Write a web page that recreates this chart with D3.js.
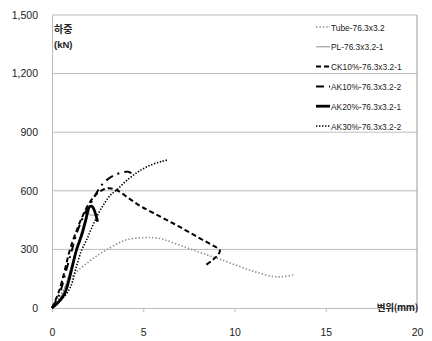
<!DOCTYPE html>
<html>
<head>
<meta charset="utf-8">
<script src="https://cdn.jsdelivr.net/npm/d3@7"></script>
<style>
  html, body { margin: 0; padding: 0; background: #fff; }
  svg { display: block; }
  text { font-family: "Liberation Sans", Arial, sans-serif; fill: #222; }
</style>
</head>
<body>
<svg id="chart" width="432" height="341"></svg>
<script>
// Load–displacement curves (displacement in mm, load in kN)
const xTicks = [0, 5, 10, 15, 20];
const yTicks = [0, 300, 600, 900, 1200, 1500];

const tube = [[0,0],[0.4,55],[0.9,135],[1.4,190],[2,235],[2.5,270],[3,298],[3.7,335],[4.2,352],[5,360],[5.5,360],[6,354],[6.6,335],[7.5,305],[8.5,272],[9.2,250],[10.3,212],[11.2,183],[12.1,162],[12.6,160],[13.3,170]];
const pl = [[0,0],[0.4,40],[0.8,130],[1.1,230],[1.4,320],[1.7,420],[1.9,480],[2.0,505],[2.05,478],[2.45,478]];
const ck10 = [[0,0],[0.4,90],[0.99,300],[1.26,374],[1.6,455],[2.0,530],[2.4,580],[2.8,606],[3.1,613],[3.54,604],[4.2,562],[4.9,519],[6,465],[7,415],[8,362],[8.7,326],[9.05,308],[9.2,293],[9.1,272],[8.8,246],[8.4,218]];
const ak10 = [[0,0],[0.4,70],[0.8,200],[1.1,300],[1.4,395],[1.8,485],[2.17,544],[2.8,638],[3.45,681],[4.17,698],[4.35,690]];
const ak20 = [[0,0],[0.3,25],[0.7,75],[1.0,170],[1.35,300],[1.63,374],[1.85,450],[2.06,518],[2.2,520],[2.35,492],[2.5,442]];
const ak30 = [[0,0],[0.5,40],[1.0,105],[1.3,200],[1.6,290],[1.9,350],[2.2,415],[2.55,485],[2.9,540],[3.2,578],[3.55,605],[4,645],[4.5,683],[5,713],[5.5,735],[6,750],[6.3,757]];

const seriesNames = ["Tube-76.3x3.2", "PL-76.3x3.2-1", "CK10%-76.3x3.2-1", "AK10%-76.3x3.2-2", "AK20%-76.3x3.2-1", "AK30%-76.3x3.2-2"];
const seriesData = [tube, pl, ck10, ak10, ak20, ak30];

const styles = [
  { stroke: "#8c8c8c", width: 1.6, dash: "1.4,2" },
  { stroke: "#8c8c8c", width: 1, dash: null },
  { stroke: "#000", width: 2, dash: "5,3" },
  { stroke: "#000", width: 2, dash: "8,5,2,5" },
  { stroke: "#000", width: 2.8, dash: null },
  { stroke: "#000", width: 1.6, dash: "1.4,1.6" }
];

const svg = d3.select("#chart");
const m = { left: 52, right: 417, top: 15, bottom: 308 };

const x = d3.scaleLinear().domain([0, 20]).range([m.left, m.right]);
const y = d3.scaleLinear().domain([0, 1500]).range([m.bottom, m.top]);

// Horizontal gridlines
svg.append("g").selectAll("line").data(yTicks.filter(d => d > 0)).join("line")
  .attr("x1", m.left).attr("x2", m.right)
  .attr("y1", d => y(d)).attr("y2", d => y(d))
  .attr("stroke", "#bdbdbd").attr("stroke-width", 1);

// Right frame edge
svg.append("line")
  .attr("x1", m.right).attr("x2", m.right).attr("y1", m.top).attr("y2", m.bottom)
  .attr("stroke", "#9a9a9a").attr("stroke-width", 1);

// Y axis
const yAxis = svg.append("g").attr("transform", `translate(${m.left},0)`)
  .call(d3.axisLeft(y).tickValues(yTicks).tickSize(0).tickPadding(14).tickFormat(d3.format(",")));
yAxis.select(".domain").attr("stroke", "#bdbdbd");
yAxis.selectAll("text").style("font-size", "10.5px").attr("fill", "#222");

// X axis
const xAxis = svg.append("g").attr("transform", `translate(0,${m.bottom})`)
  .call(d3.axisBottom(x).tickValues(xTicks).tickSize(4).tickPadding(17));
xAxis.select(".domain").attr("stroke", "#bdbdbd");
xAxis.selectAll(".tick line").attr("stroke", "#bdbdbd");
xAxis.selectAll("text").style("font-size", "10.5px").attr("fill", "#222");

// Curves
const line = d3.line().x(d => x(d[0])).y(d => y(d[1])).curve(d3.curveCatmullRom.alpha(0.5));
const order = [0, 1, 5, 2, 3, 4];
order.forEach(i => {
  svg.append("path")
    .datum(seriesData[i])
    .attr("d", line)
    .attr("fill", "none")
    .attr("stroke", styles[i].stroke)
    .attr("stroke-width", styles[i].width)
    .attr("stroke-dasharray", styles[i].dash)
    .attr("stroke-linejoin", "round");
});

// Axis titles
const cjk = '"Noto Sans CJK KR", "Liberation Sans", sans-serif';
svg.append("text").attr("x", 54).attr("y", 33).text("하중")
  .style("font-family", cjk).style("font-size", "10px").style("font-weight", "bold");
svg.append("text").attr("x", 54).attr("y", 48).text("(kN)")
  .style("font-size", "9.5px").style("font-weight", "bold");
svg.append("text").attr("x", 418).attr("y", 311).attr("text-anchor", "end").text("변위(mm)")
  .style("font-family", cjk).style("font-size", "9.5px").style("font-weight", "bold").style("letter-spacing", "-0.3px");

// Legend
const legend = svg.append("g");
seriesNames.forEach((name, i) => {
  const cy = 27 + i * 19.8;
  legend.append("line")
    .attr("x1", 316).attr("x2", 330).attr("y1", cy).attr("y2", cy)
    .attr("stroke", styles[i].stroke)
    .attr("stroke-width", styles[i].width)
    .attr("stroke-dasharray", styles[i].dash);
  legend.append("text")
    .attr("transform", `translate(331,${cy + 3.5}) scale(0.88,1)`)
    .text(name)
    .style("font-size", "9.5px");
});
</script>
</body>
</html>
